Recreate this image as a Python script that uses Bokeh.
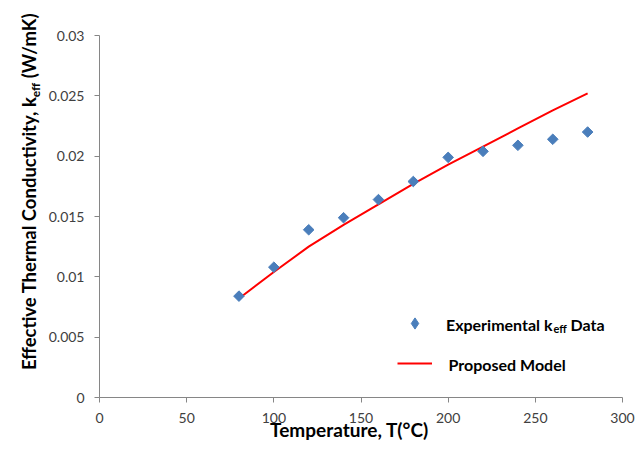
from bokeh.plotting import figure
from bokeh.models import (Range1d, FixedTicker, Label, Legend, LegendItem, Div)
from bokeh.layouts import row
from bokeh.core.properties import value
from bokeh.embed import file_html
from bokeh.resources import INLINE
import math

# ---- data ----
temp_exp = [80, 100, 120, 140, 160, 180, 200, 220, 240, 260, 280]
keff_exp = [0.0084, 0.0108, 0.0139, 0.0149, 0.0164, 0.0179, 0.0199, 0.0204, 0.0209, 0.0214, 0.0220]
temp_model = [80, 100, 120, 140, 160, 180, 200, 220, 240, 260, 280]
keff_model = [0.0082, 0.0104, 0.0125, 0.0143, 0.0160, 0.0177, 0.0193, 0.0208, 0.0223, 0.0238, 0.0252]
x_ticks = [0, 50, 100, 150, 200, 250, 300]
y_ticks = [0, 0.005, 0.01, 0.015, 0.02, 0.025, 0.03]
y_tick_labels = ["0", "0.005", "0.01", "0.015", "0.02", "0.025", "0.03"]

FONT = "Lato"
AXIS_COL = "#868686"
TICK_TXT = "#404040"
BLUE = "#4a7ebb"
LEFT_W = 45
H = 453

p = figure(width=644 - LEFT_W, height=H, output_backend="svg", toolbar_location=None,
           x_range=Range1d(0, 300), y_range=Range1d(0, 0.03),
           min_border_left=98 - LEFT_W, min_border_right=22, min_border_top=35, min_border_bottom=56)
p.outline_line_color = None
p.xgrid.visible = False
p.ygrid.visible = False
p.background_fill_color = "white"
p.border_fill_color = "white"

for ax in (p.xaxis[0], p.yaxis[0]):
    ax.axis_line_color = AXIS_COL
    ax.major_tick_line_color = AXIS_COL
    ax.minor_tick_line_color = None
    ax.major_tick_out = 5
    ax.major_tick_in = 0
    ax.major_label_text_font = FONT
    ax.major_label_text_font_size = "14px"
    ax.major_label_text_color = TICK_TXT

p.xaxis.ticker = FixedTicker(ticks=x_ticks)
p.yaxis.ticker = FixedTicker(ticks=y_ticks)
p.yaxis.major_label_overrides = {t: s for t, s in zip(y_ticks, y_tick_labels)}
p.xaxis.major_label_standoff = 10
p.yaxis.major_label_standoff = 10

# trailing no-break spaces shift the centred label slightly left, like the original
p.xaxis.axis_label = "Temperature, T(°C)" + "\u00a0" * 5
p.xaxis.axis_label_text_font = FONT
p.xaxis.axis_label_text_font_style = "bold"
p.xaxis.axis_label_text_font_size = "19px"
p.xaxis.axis_label_text_color = "black"
p.xaxis.axis_label_standoff = -8

line_r = p.line(temp_model, keff_model, line_color="#ff0000", line_width=2)
pts_r = p.scatter(temp_exp, keff_exp, marker="square", angle=math.pi / 4, size=7.5,
                  fill_color=BLUE, line_color=BLUE)
# hidden twin of the data, only used for its diamond legend icon
pts_leg = p.scatter(temp_exp, keff_exp, marker="diamond", size=10,
                    fill_color=BLUE, line_color=BLUE, visible=False)

legend = Legend(items=[LegendItem(label=value(" "), renderers=[pts_leg]),
                       LegendItem(label=value(" "), renderers=[line_r])],
                location=(298, 20), orientation="vertical",
                glyph_width=35, glyph_height=28, label_height=28, spacing=12,
                padding=0, margin=0, label_standoff=0,
                background_fill_alpha=0, border_line_alpha=0,
                inactive_fill_alpha=0, click_policy="none",
                label_text_font_size="1px")
p.add_layout(legend, "center")


def lab(fig, text, x, y, size, align="left"):
    fig.add_layout(Label(x=x, y=y, x_units="screen", y_units="screen", text=text,
                         text_font=FONT, text_font_style="bold", text_font_size=size,
                         text_color="black", text_align=align, text_baseline="alphabetic",
                         level="overlay"))


lab(p, "Experimental k", 453, 73, "16px", align="right")
lab(p, "eff", 454, 69, "11px")
lab(p, "Data", 471, 73, "16px")
lab(p, "Proposed Model", 349, 33, "16px")

# ---- rotated y-axis title with a real subscript ----
ytitle_html = (
    '<div style="position:relative;width:%dpx;height:%dpx;">'
    '<div style="position:absolute;left:18px;top:370px;transform-origin:0 0;'
    'transform:rotate(-90deg);white-space:nowrap;font-family:Lato;font-weight:bold;'
    'font-size:18.5px;line-height:22px;color:black;margin:0;padding:0;">'
    'Effective Thermal Conductivity, k'
    '<span style="font-size:12px;position:relative;top:4px;line-height:0;">eff</span>'
    ' (W/mK)</div></div>' % (LEFT_W, H)
)
ytitle = Div(text=ytitle_html, width=LEFT_W, height=H, margin=0)

layout = row(ytitle, p)
open("out.html", "w").write(file_html(layout, INLINE))
